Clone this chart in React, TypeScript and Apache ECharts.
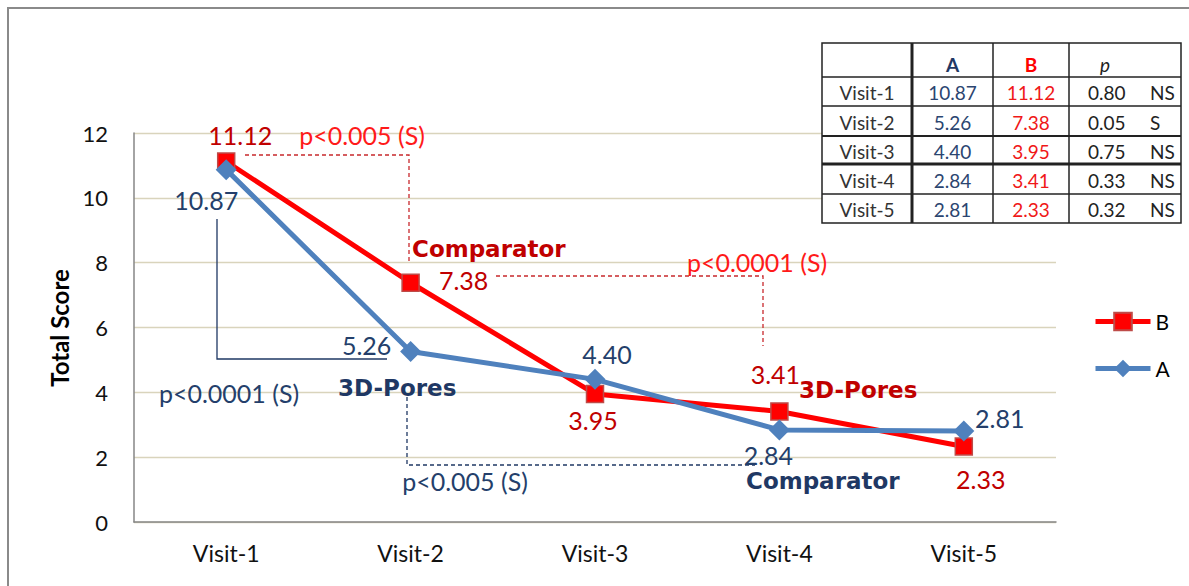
import React, { useEffect, useRef } from "react";
import * as echarts from "echarts";

const categories = ["Visit-1", "Visit-2", "Visit-3", "Visit-4", "Visit-5"];
const seriesA = [10.87, 5.26, 4.4, 2.84, 2.81];
const seriesB = [11.12, 7.38, 3.95, 3.41, 2.33];
const pValues = ["0.80", "0.05", "0.75", "0.33", "0.32"];
const significance = ["NS", "S", "NS", "NS", "NS"];
const yTicks = { min: 0, max: 12, interval: 2 };

// label placements (pixel offsets from each marker)
const labelOffsetsB = [[14, -27], [53, -3], [-2, 26], [-4, -37], [17, 33]];
const labelOffsetsA = [[-20, 30], [-44, -6], [12, -25], [-11, 25], [36, -13]];

const BLUE_TXT = "#243f6b";
const RED_TXT = "#c00000";
const RED_P = "#ff1a1a";

function buildTable() {
  const els: any[] = [];
  const x0 = 822, x1 = 912, x2 = 993, x3 = 1069, x4 = 1181;
  const rows = [43, 77, 106, 136, 164, 194, 223];
  els.push({ type: "rect", z: 10, shape: { x: x0, y: rows[0], width: x4 - x0, height: rows[6] - rows[0] }, style: { fill: "#fff", stroke: "#222", lineWidth: 1.5 } });
  const hw = [1.5, 1.5, 2.2, 3, 1.5];
  for (let i = 1; i <= 5; i++) {
    els.push({ type: "line", z: 11, shape: { x1: x0, y1: rows[i], x2: x4, y2: rows[i] }, style: { stroke: "#222", lineWidth: hw[i - 1] } });
  }
  els.push({ type: "line", z: 11, shape: { x1: x1, y1: rows[0], x2: x1, y2: rows[6] }, style: { stroke: "#222", lineWidth: 3 } });
  els.push({ type: "line", z: 11, shape: { x1: x2, y1: rows[0], x2: x2, y2: rows[6] }, style: { stroke: "#222", lineWidth: 1.5 } });
  els.push({ type: "line", z: 11, shape: { x1: x3, y1: rows[0], x2: x3, y2: rows[6] }, style: { stroke: "#222", lineWidth: 1.5 } });
  const t = (text: string, x: number, y: number, fill: string, extra: any = {}) => ({
    type: "text", z: 12, x, y,
    style: { text, fill, fontSize: 19, fontFamily: "Lato", align: "center", verticalAlign: "middle", ...extra },
  });
  els.push(t("A", (x1 + x2) / 2, 64, "#1f3864", { fontWeight: "bold" }));
  els.push(t("B", (x2 + x3) / 2, 64, "#ff0000", { fontWeight: "bold" }));
  els.push(t("p", 1105, 64, "#222", { fontStyle: "italic" }));
  for (let i = 0; i < categories.length; i++) {
    const cy = (rows[i + 1] + rows[i + 2]) / 2 + 1;
    els.push(t(categories[i], (x0 + x1) / 2, cy, "#333"));
    els.push(t(seriesA[i].toFixed(2), (x1 + x2) / 2, cy, "#2b4570"));
    els.push(t(seriesB[i].toFixed(2), (x2 + x3) / 2, cy, "#f01818"));
    els.push(t(pValues[i], 1088, cy, "#222", { align: "left" }));
    els.push(t(significance[i], 1150, cy, "#222", { align: "left" }));
  }
  return els;
}

function buildAnnotations() {
  const txt = (text: string, x: number, y: number, fill: string, extra: any = {}) => ({
    type: "text", z: 5, x, y,
    style: { text, fill, fontSize: 25, fontFamily: "Lato", align: "center", verticalAlign: "middle", ...extra },
  });
  const bold = { fontFamily: "DejaVu Sans", fontWeight: "bold", fontSize: 23, align: "left" };
  return [
    { type: "rect", z: 0, shape: { x: 8, y: 8, width: 1300, height: 700 }, style: { fill: "none", stroke: "#8a8a8a", lineWidth: 2 } },
    { type: "text", z: 5, x: 59, y: 328, rotation: Math.PI / 2, style: { text: "Total Score", fill: "#000", fontSize: 24, fontWeight: "bold", fontFamily: "Lato", align: "center", verticalAlign: "middle" } },
    { type: "polyline", z: 3, shape: { points: [[245, 155], [409, 155], [409, 262]] }, style: { fill: "none", stroke: "#c8282d", lineWidth: 1.3, lineDash: [4, 3] } },
    { type: "polyline", z: 3, shape: { points: [[496, 276], [763, 276], [763, 346]] }, style: { fill: "none", stroke: "#c8282d", lineWidth: 1.3, lineDash: [4, 3] } },
    { type: "polyline", z: 3, shape: { points: [[217, 219], [217, 359], [387, 359]] }, style: { fill: "none", stroke: "#1f3864", lineWidth: 1.3 } },
    { type: "polyline", z: 3, shape: { points: [[407, 397], [407, 465], [755, 465]] }, style: { fill: "none", stroke: "#1f3864", lineWidth: 1.3, lineDash: [4, 3] } },
    txt("p<0.005 (S)", 362, 135, RED_P),
    txt("p<0.0001 (S)", 757, 262, RED_P),
    txt("p<0.0001 (S)", 229, 393, BLUE_TXT),
    txt("p<0.005 (S)", 465, 481, BLUE_TXT),
    txt("Comparator", 412, 249, RED_TXT, bold),
    txt("3D-Pores", 338, 388, "#1f3864", bold),
    txt("3D-Pores", 799, 390, RED_TXT, bold),
    txt("Comparator", 746, 481, "#1f3864", bold),
  ];
}

export default function App() {
  const ref = useRef<HTMLDivElement>(null);
  useEffect(() => {
    if (!ref.current) return;
    const chart = echarts.init(ref.current, undefined, { renderer: "svg" });
    const mkData = (vals: number[], offs: number[][]) =>
      vals.map((v, i) => ({ value: v, label: { offset: offs[i] } }));
    chart.setOption({
      animation: false,
      backgroundColor: "#ffffff",
      grid: { left: 134, right: 133, top: 133, bottom: 64, containLabel: false },
      legend: {
        data: ["B", "A"],
        orient: "vertical",
        left: 1093,
        top: 311,
        itemWidth: 55,
        itemHeight: 22,
        itemGap: 26,
        padding: 0,
        lineStyle: { width: 5 },
        textStyle: { fontSize: 21, fontFamily: "Lato", color: "#000" },
      },
      xAxis: {
        type: "category",
        data: categories,
        boundaryGap: true,
        axisLine: { lineStyle: { color: "#868686", width: 1.5 } },
        axisTick: { show: false },
        axisLabel: { fontSize: 23, fontFamily: "Lato", color: "#111", margin: 19 },
      },
      yAxis: {
        type: "value",
        min: yTicks.min,
        max: yTicks.max,
        interval: yTicks.interval,
        axisLine: { show: true, lineStyle: { color: "#868686", width: 1.5 } },
        axisTick: { show: false },
        axisLabel: { fontSize: 22, fontFamily: "Lato", color: "#111", margin: 26 },
        splitLine: { lineStyle: { color: "#d9d4bc", width: 1.3 } },
      },
      series: [
        {
          name: "B",
          type: "line",
          data: mkData(seriesB, labelOffsetsB),
          symbol: "rect",
          symbolSize: 17,
          lineStyle: { color: "#ff0000", width: 5 },
          itemStyle: { color: "#ff0000", borderColor: "#be4b48", borderWidth: 1.5 },
          label: {
            show: true, position: "inside", fontSize: 25, fontFamily: "Lato", color: RED_TXT,
            formatter: (p: any) => Number(p.value).toFixed(2),
          },
          z: 3,
        },
        {
          name: "A",
          type: "line",
          data: mkData(seriesA, labelOffsetsA),
          symbol: "diamond",
          symbolSize: 21,
          lineStyle: { color: "#4f81bd", width: 5 },
          itemStyle: { color: "#4f81bd" },
          label: {
            show: true, position: "inside", fontSize: 25, fontFamily: "Lato", color: BLUE_TXT,
            formatter: (p: any) => Number(p.value).toFixed(2),
          },
          z: 4,
        },
      ],
      graphic: [...buildAnnotations(), ...buildTable()],
    });
    return () => chart.dispose();
  }, []);
  return <div ref={ref} style={{ position: "absolute", left: 0, top: 0, width: 1189, height: 586 }} />;
}
